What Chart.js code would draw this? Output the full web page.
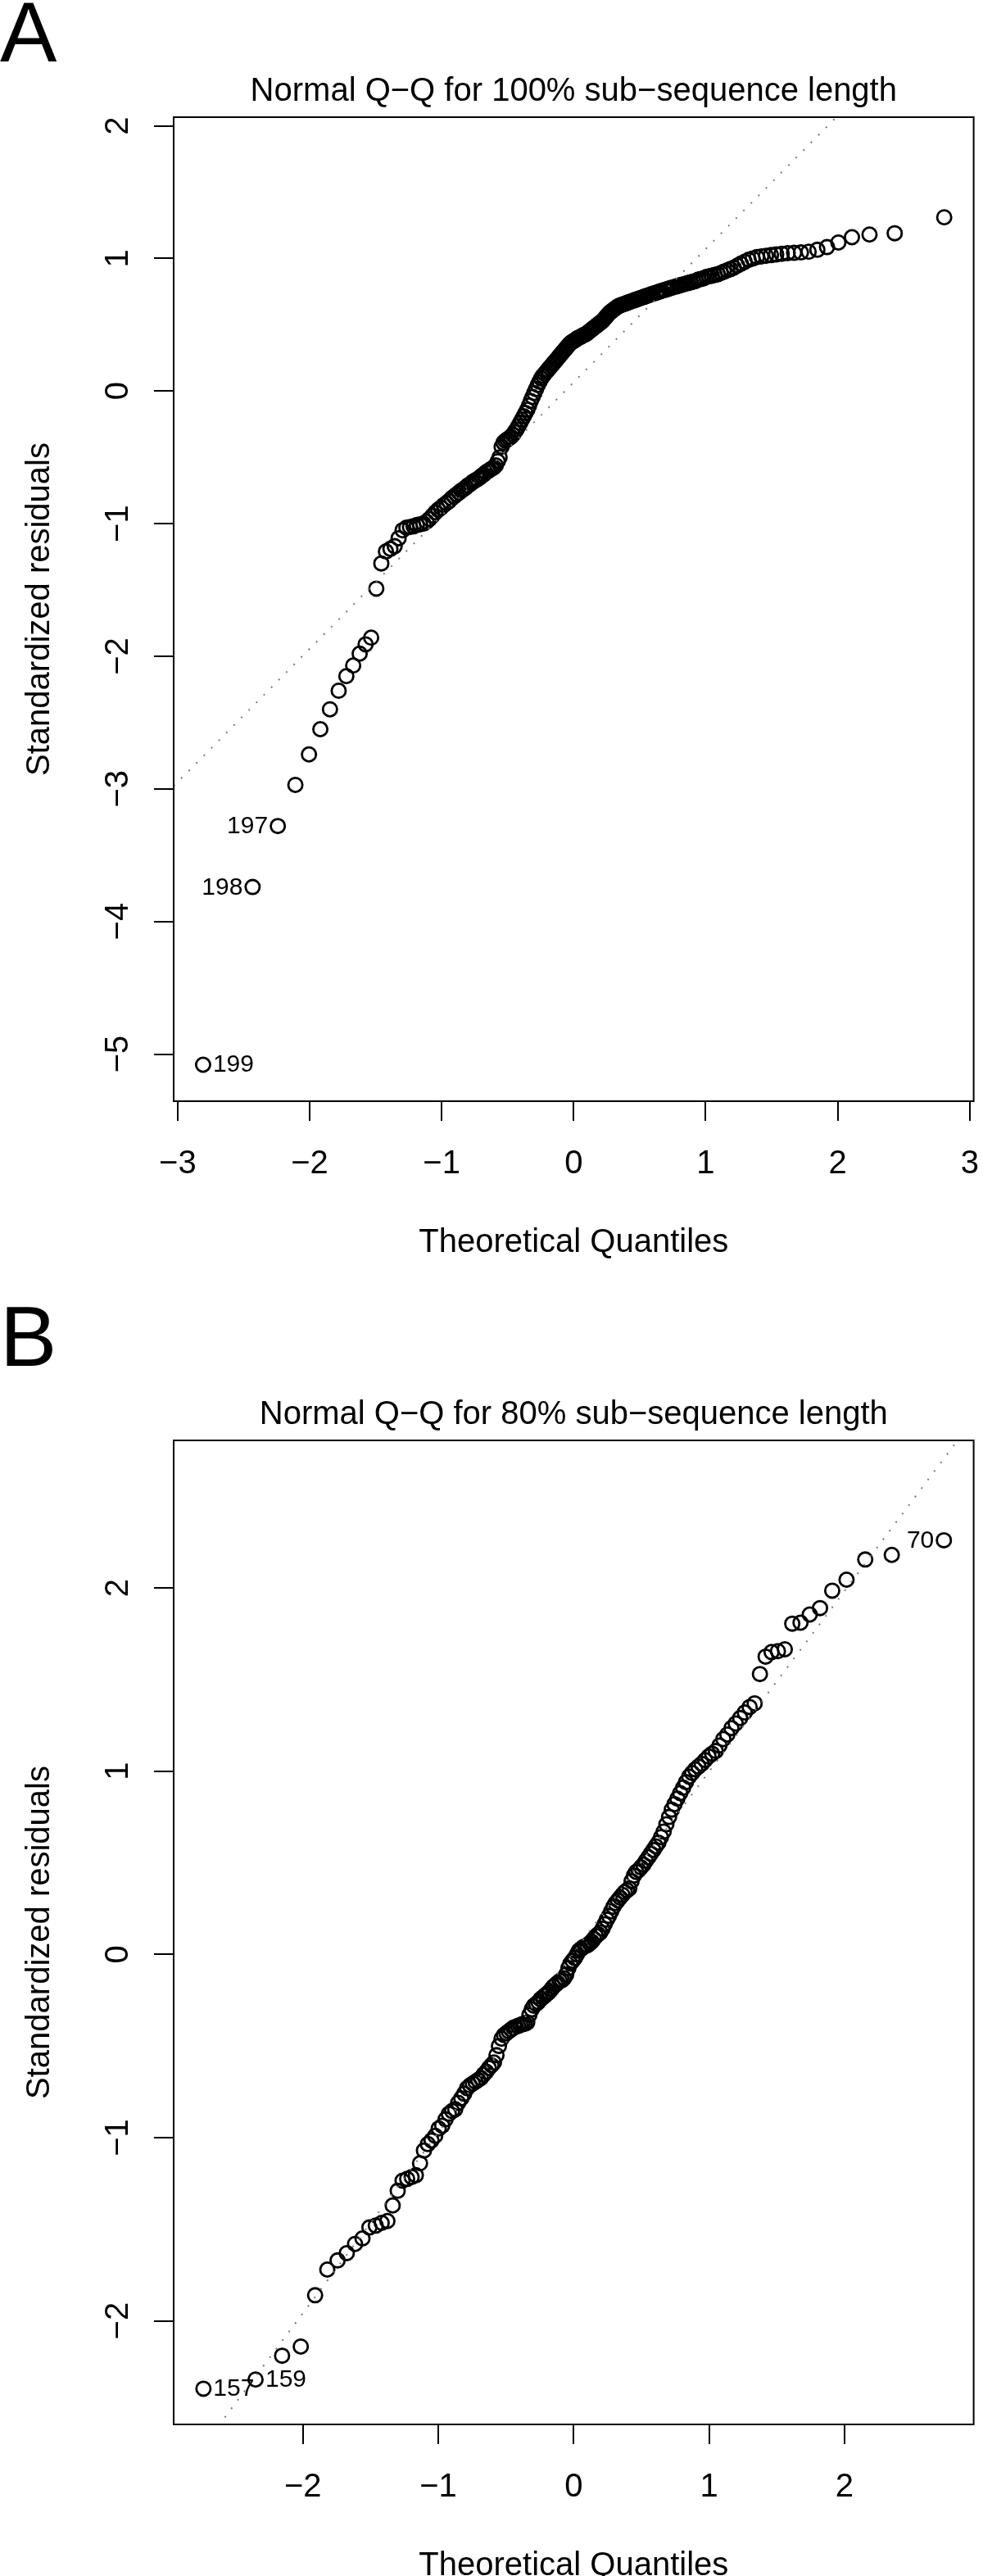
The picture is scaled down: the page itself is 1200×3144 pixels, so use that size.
<!DOCTYPE html>
<html>
<head>
<meta charset="utf-8">
<script src="https://cdn.jsdelivr.net/npm/chart.js@4.4.1/dist/chart.umd.min.js"></script>
<style>
html,body{margin:0;padding:0;background:#fff;}
.panel{position:relative;width:1200px;height:1572px;}
canvas{display:block;}
</style>
</head>
<body>
<div class="panel"><canvas id="chartA" width="1200" height="1572"></canvas></div>
<div class="panel"><canvas id="chartB" width="1200" height="1572"></canvas></div>
<script>
// ---------------- Panel A : 100% sub-sequence length (n = 200) ----------------
const titleA = 'Normal Q\u2212Q for 100% sub\u2212sequence length';
const quantilesA = [
-2.807,-2.432,-2.241,-2.108,-2.005,-1.919,-1.846,-1.780,-1.722,-1.670,
-1.621,-1.576,-1.534,-1.495,-1.457,-1.422,-1.388,-1.356,-1.326,-1.296,
-1.267,-1.240,-1.213,-1.188,-1.163,-1.138,-1.115,-1.092,-1.069,-1.047,
-1.026,-1.005,-0.984,-0.964,-0.944,-0.925,-0.906,-0.887,-0.868,-0.850,
-0.833,-0.815,-0.798,-0.781,-0.764,-0.747,-0.731,-0.714,-0.698,-0.682,
-0.667,-0.651,-0.636,-0.620,-0.605,-0.590,-0.575,-0.561,-0.546,-0.532,
-0.517,-0.503,-0.489,-0.475,-0.461,-0.447,-0.433,-0.419,-0.405,-0.392,
-0.378,-0.365,-0.351,-0.338,-0.325,-0.311,-0.298,-0.285,-0.272,-0.259,
-0.246,-0.233,-0.220,-0.208,-0.195,-0.182,-0.170,-0.157,-0.144,-0.132,
-0.119,-0.107,-0.094,-0.082,-0.069,-0.056,-0.044,-0.031,-0.019,-0.006,
0.006,0.019,0.031,0.044,0.056,0.069,0.082,0.094,0.107,0.119,
0.132,0.144,0.157,0.170,0.182,0.195,0.208,0.220,0.233,0.246,
0.259,0.272,0.285,0.298,0.311,0.325,0.338,0.351,0.365,0.378,
0.392,0.405,0.419,0.433,0.447,0.461,0.475,0.489,0.503,0.517,
0.532,0.546,0.561,0.575,0.590,0.605,0.620,0.636,0.651,0.667,
0.682,0.698,0.714,0.731,0.747,0.764,0.781,0.798,0.815,0.833,
0.850,0.868,0.887,0.906,0.925,0.944,0.964,0.984,1.005,1.026,
1.047,1.069,1.092,1.115,1.138,1.163,1.188,1.213,1.240,1.267,
1.296,1.326,1.356,1.388,1.422,1.457,1.495,1.534,1.576,1.621,
1.670,1.722,1.780,1.846,1.919,2.005,2.108,2.241,2.432,2.807
];
const residualsA = [
-5.08,-3.74,-3.28,-2.97,-2.74,-2.55,-2.40,-2.26,-2.15,-2.07,
-1.98,-1.91,-1.86,-1.49,-1.30,-1.21,-1.19,-1.17,-1.11,-1.05,
-1.03,-1.025,-1.02,-1.01,-1.005,-1.00,-0.985,-0.965,-0.94,-0.915,
-0.895,-0.88,-0.86,-0.845,-0.83,-0.81,-0.795,-0.78,-0.765,-0.75,
-0.74,-0.725,-0.71,-0.70,-0.685,-0.675,-0.665,-0.655,-0.64,-0.63,
-0.615,-0.605,-0.595,-0.585,-0.575,-0.56,-0.53,-0.50,-0.42,-0.39,
-0.375,-0.365,-0.355,-0.345,-0.33,-0.31,-0.29,-0.265,-0.24,-0.215,
-0.19,-0.165,-0.14,-0.11,-0.075,-0.045,-0.015,0.015,0.045,0.07,
0.095,0.115,0.13,0.145,0.16,0.175,0.19,0.205,0.22,0.235,
0.25,0.265,0.28,0.295,0.31,0.325,0.34,0.355,0.365,0.375,
0.38,0.39,0.40,0.405,0.41,0.42,0.425,0.43,0.44,0.45,
0.46,0.47,0.48,0.49,0.50,0.51,0.52,0.53,0.545,0.56,
0.575,0.59,0.60,0.61,0.62,0.63,0.64,0.645,0.65,0.655,
0.66,0.665,0.67,0.675,0.68,0.685,0.69,0.695,0.70,0.705,
0.71,0.715,0.72,0.725,0.73,0.735,0.74,0.745,0.75,0.755,
0.76,0.765,0.77,0.775,0.78,0.785,0.79,0.795,0.80,0.805,
0.81,0.815,0.82,0.825,0.83,0.84,0.845,0.85,0.86,0.865,
0.87,0.875,0.88,0.89,0.90,0.91,0.92,0.93,0.945,0.96,
0.975,0.99,1.00,1.01,1.015,1.02,1.025,1.03,1.035,1.04,
1.042,1.045,1.05,1.065,1.085,1.12,1.16,1.18,1.19,1.31
];
const xTicksA = [-3,-2,-1,0,1,2,3];
const yTicksA = [-5,-4,-3,-2,-1,0,1,2];
const xRangeA = [-3.03, 3.03];
const yRangeA = [-5.355, 2.065];
const qqLineA = [0.066, 1.005];          // intercept, slope
const idTextA = ['199','198','197'];
const idRankA = [1,2,3];
const idSideA = ['right','left','left'];

// ---------------- Panel B : 80% sub-sequence length (n = 160) ----------------
const titleB = 'Normal Q\u2212Q for 80% sub\u2212sequence length';
const quantilesB = [
-2.735,-2.350,-2.154,-2.016,-1.910,-1.820,-1.744,-1.676,-1.615,-1.560,
-1.509,-1.462,-1.418,-1.376,-1.337,-1.300,-1.264,-1.230,-1.197,-1.166,
-1.135,-1.106,-1.077,-1.050,-1.023,-0.997,-0.971,-0.946,-0.922,-0.898,
-0.875,-0.853,-0.830,-0.809,-0.787,-0.766,-0.745,-0.725,-0.705,-0.685,
-0.665,-0.645,-0.626,-0.607,-0.589,-0.570,-0.552,-0.533,-0.515,-0.497,
-0.480,-0.462,-0.445,-0.428,-0.411,-0.394,-0.377,-0.360,-0.343,-0.327,
-0.310,-0.294,-0.277,-0.261,-0.245,-0.229,-0.213,-0.197,-0.181,-0.165,
-0.149,-0.133,-0.118,-0.102,-0.086,-0.071,-0.055,-0.039,-0.024,-0.008,
0.008,0.024,0.039,0.055,0.071,0.086,0.102,0.118,0.133,0.149,
0.165,0.181,0.197,0.213,0.229,0.245,0.261,0.277,0.294,0.310,
0.327,0.343,0.360,0.377,0.394,0.411,0.428,0.445,0.462,0.480,
0.497,0.515,0.533,0.552,0.570,0.589,0.607,0.626,0.645,0.665,
0.685,0.705,0.725,0.745,0.766,0.787,0.809,0.830,0.853,0.875,
0.898,0.922,0.946,0.971,0.997,1.023,1.050,1.077,1.106,1.135,
1.166,1.197,1.230,1.264,1.300,1.337,1.376,1.418,1.462,1.509,
1.560,1.615,1.676,1.744,1.820,1.910,2.016,2.154,2.350,2.735
];
const residualsB = [
-2.37,-2.32,-2.19,-2.14,-1.86,-1.72,-1.67,-1.63,-1.58,-1.55,
-1.49,-1.48,-1.465,-1.455,-1.37,-1.29,-1.235,-1.225,-1.215,-1.205,
-1.14,-1.07,-1.035,-1.015,-0.99,-0.95,-0.935,-0.90,-0.87,-0.855,
-0.845,-0.81,-0.785,-0.76,-0.73,-0.715,-0.705,-0.695,-0.685,-0.675,
-0.655,-0.64,-0.62,-0.605,-0.59,-0.55,-0.50,-0.46,-0.44,-0.43,
-0.42,-0.41,-0.40,-0.395,-0.39,-0.385,-0.38,-0.378,-0.372,-0.33,
-0.30,-0.28,-0.27,-0.26,-0.245,-0.235,-0.225,-0.215,-0.205,-0.19,
-0.175,-0.165,-0.155,-0.145,-0.14,-0.13,-0.11,-0.075,-0.05,-0.035,
-0.02,0.0,0.02,0.03,0.04,0.045,0.05,0.06,0.07,0.085,
0.10,0.11,0.12,0.14,0.165,0.19,0.21,0.235,0.26,0.28,
0.295,0.31,0.325,0.34,0.35,0.36,0.40,0.43,0.45,0.46,
0.475,0.49,0.51,0.53,0.55,0.57,0.59,0.61,0.64,0.67,
0.71,0.75,0.79,0.82,0.85,0.88,0.91,0.94,0.97,0.99,
1.01,1.025,1.04,1.06,1.08,1.095,1.11,1.14,1.175,1.20,
1.235,1.26,1.29,1.32,1.35,1.37,1.53,1.625,1.65,1.655,
1.665,1.805,1.81,1.855,1.89,1.985,2.045,2.155,2.18,2.26
];
const xTicksB = [-2,-1,0,1,2];
const yTicksB = [-2,-1,0,1,2];
const xRangeB = [-2.955, 2.955];
const yRangeB = [-2.565, 2.805];
const qqLineB = [0.012, 0.985];
const idTextB = ['157','159','70'];
const idRankB = [1,2,160];
const idSideB = ['right','right','left'];

const xAxisTitle = 'Theoretical Quantiles';
const yAxisTitle = 'Standardized residuals';

// ---------------- drawing ----------------
const FONT = '"Liberation Sans", Arial, Helvetica, sans-serif';
const fmt = v => (v < 0 ? '\u2212' + Math.abs(v) : String(v));

const rDecor = {
  id: 'rDecor',
  afterDraw(chart, args, o) {
    const ctx = chart.ctx, ca = chart.chartArea;
    const xs = chart.scales.x, ys = chart.scales.y;
    ctx.save();
    ctx.strokeStyle = '#000';
    ctx.lineWidth = 2;
    ctx.strokeRect(ca.left, ca.top, ca.right - ca.left, ca.bottom - ca.top);
    ctx.fillStyle = '#000';
    ctx.textBaseline = 'alphabetic';
    ctx.textAlign = 'center';
    ctx.font = '40px ' + FONT;
    o.xTicks.forEach(v => ctx.fillText(fmt(v), xs.getPixelForValue(v), ca.bottom + 88));
    o.yTicks.forEach(v => {
      ctx.save();
      ctx.translate(ca.left - 56, ys.getPixelForValue(v));
      ctx.rotate(-Math.PI / 2);
      ctx.fillText(fmt(v), 0, 0);
      ctx.restore();
    });
    ctx.fillText(o.title, (ca.left + ca.right) / 2, ca.top - 20);
    ctx.fillText(xAxisTitle, (ca.left + ca.right) / 2, ca.bottom + 184);
    ctx.save();
    ctx.translate(60, (ca.top + ca.bottom) / 2);
    ctx.rotate(-Math.PI / 2);
    ctx.fillText(yAxisTitle, 0, 0);
    ctx.restore();
    ctx.textAlign = 'left';
    ctx.font = '104px ' + FONT;
    ctx.fillText(o.letter, 0, o.letterBaseline);
    ctx.font = '30px ' + FONT;
    o.idText.forEach((t, k) => {
      const r = o.idRank[k] - 1;
      const px = xs.getPixelForValue(o.qx[r]);
      const py = ys.getPixelForValue(o.qy[r]);
      if (o.idSide[k] === 'right') { ctx.textAlign = 'left'; ctx.fillText(t, px + 12, py + 9); }
      else { ctx.textAlign = 'right'; ctx.fillText(t, px - 12, py + 9); }
    });
    ctx.restore();
  }
};

function makePanel(id, p) {
  const pts = p.qx.map((x, i) => ({ x: x, y: p.qy[i] }));
  const line = [
    { x: p.xRange[0], y: p.line[0] + p.line[1] * p.xRange[0] },
    { x: p.xRange[1], y: p.line[0] + p.line[1] * p.xRange[1] }
  ];
  return new Chart(document.getElementById(id), {
    type: 'scatter',
    data: {
      datasets: [
        { type: 'line', data: line, borderColor: '#7a7a7a', borderWidth: 2,
          borderDash: [2, 11], pointRadius: 0, fill: false, tension: 0, clip: 0 },
        { type: 'scatter', data: pts, pointStyle: 'circle', pointRadius: 8.6,
          pointBorderWidth: 2.8, pointBackgroundColor: 'rgba(0,0,0,0)',
          pointBorderColor: '#000', clip: false }
      ]
    },
    options: {
      responsive: false, animation: false, events: [],
      layout: { padding: { left: 0, top: p.top, right: 5, bottom: 0 } },
      plugins: { legend: { display: false }, tooltip: { enabled: false }, title: { display: false },
        rDecor: { xTicks: p.xTicks, yTicks: p.yTicks, title: p.title, letter: p.letter,
          letterBaseline: p.letterBaseline, idText: p.idText, idRank: p.idRank,
          idSide: p.idSide, qx: p.qx, qy: p.qy } },
      scales: {
        x: { type: 'linear', min: p.xRange[0], max: p.xRange[1],
          afterBuildTicks: s => { s.ticks = p.xTicks.map(v => ({ value: v })); },
          afterFit: s => { s.height = p.xAxisHeight; },
          ticks: { display: false },
          border: { display: false },
          grid: { display: true, drawOnChartArea: false, drawTicks: true, tickLength: 24,
            lineWidth: 2, color: '#000' } },
        y: { type: 'linear', min: p.yRange[0], max: p.yRange[1],
          afterBuildTicks: s => { s.ticks = p.yTicks.map(v => ({ value: v })); },
          afterFit: s => { s.width = 212; },
          ticks: { display: false },
          border: { display: false },
          grid: { display: true, drawOnChartArea: false, drawTicks: true, tickLength: 24,
            lineWidth: 2, color: '#000' } }
      }
    },
    plugins: [rDecor]
  });
}

makePanel('chartA', { qx: quantilesA, qy: residualsA, xTicks: xTicksA, yTicks: yTicksA,
  xRange: xRangeA, yRange: yRangeA, line: qqLineA, title: titleA, letter: 'A',
  letterBaseline: 75, top: 143, xAxisHeight: 228,
  idText: idTextA, idRank: idRankA, idSide: idSideA });

makePanel('chartB', { qx: quantilesB, qy: residualsB, xTicks: xTicksB, yTicks: yTicksB,
  xRange: xRangeB, yRange: yRangeB, line: qqLineB, title: titleB, letter: 'B',
  letterBaseline: 95, top: 186, xAxisHeight: 185,
  idText: idTextB, idRank: idRankB, idSide: idSideB });
</script>
</body>
</html>
